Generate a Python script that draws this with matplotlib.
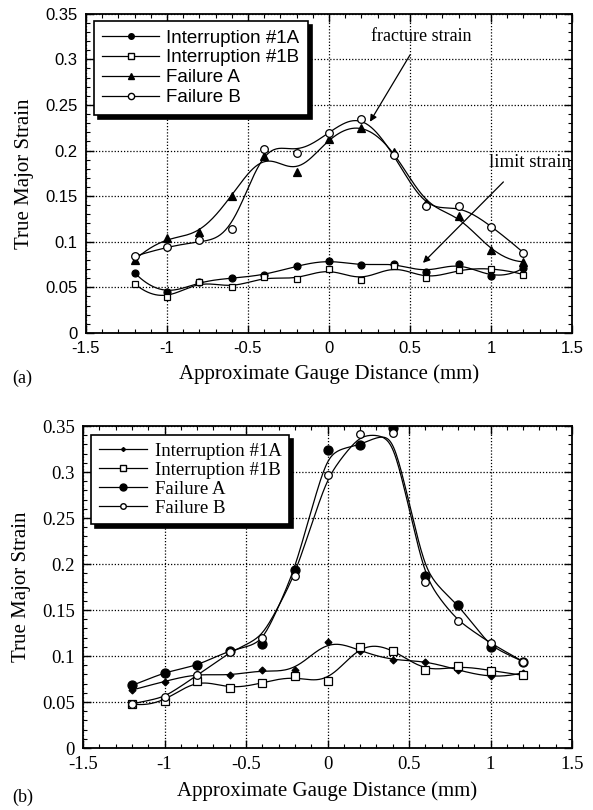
import numpy as np
import matplotlib
matplotlib.use("Agg")
import matplotlib.pyplot as plt
from matplotlib.ticker import MultipleLocator

# gauge positions (mm)
x = [-1.2, -1.0, -0.8, -0.6, -0.4, -0.2, 0.0, 0.2, 0.4, 0.6, 0.8, 1.0, 1.2]

# panel (a)
a_int1a = [0.066, 0.045, 0.056, 0.060, 0.064, 0.073, 0.079, 0.074, 0.076, 0.067, 0.076, 0.062, 0.071]
a_int1b = [0.054, 0.039, 0.056, 0.050, 0.061, 0.059, 0.070, 0.058, 0.073, 0.060, 0.069, 0.070, 0.064]
a_failA = [0.080, 0.104, 0.111, 0.150, 0.194, 0.176, 0.213, 0.225, 0.198, 0.142, 0.128, 0.091, 0.078]
a_failB = [0.084, 0.094, 0.102, 0.114, 0.202, 0.197, 0.219, 0.235, 0.195, 0.139, 0.139, 0.116, 0.088]

# panel (b)
b_int1a = [0.063, 0.072, 0.080, 0.079, 0.085, 0.085, 0.115, 0.105, 0.096, 0.094, 0.085, 0.078, 0.082]
b_int1b = [0.048, 0.051, 0.073, 0.065, 0.071, 0.078, 0.073, 0.110, 0.106, 0.085, 0.089, 0.084, 0.079]
b_failA = [0.068, 0.082, 0.090, 0.106, 0.113, 0.193, 0.324, 0.329, 0.348, 0.187, 0.156, 0.110, 0.094]
b_failB = [0.048, 0.055, 0.079, 0.104, 0.120, 0.187, 0.297, 0.341, 0.342, 0.180, 0.138, 0.114, 0.094]

labels = ["Interruption #1A", "Interruption #1B", "Failure A", "Failure B"]
xticks = [-1.5, -1, -0.5, 0, 0.5, 1, 1.5]
xticklabels = ["-1.5", "-1", "-0.5", "0", "0.5", "1", "1.5"]
yticks = [0, 0.05, 0.1, 0.15, 0.2, 0.25, 0.3, 0.35]
yticklabels = ["0", "0.05", "0.1", "0.15", "0.2", "0.25", "0.3", "0.35"]

SERIF = "Liberation Serif"
SANS = "Liberation Sans"


def smooth(xv, yv, bw=0.15, deg=2):
    # local polynomial kernel smoother, like the plotting program's "smooth" fit
    xv = np.asarray(xv)
    yv = np.asarray(yv)
    xs = np.linspace(xv.min(), xv.max(), 300)
    ys = []
    for x0 in xs:
        w = np.exp(-0.5 * ((xv - x0) / bw) ** 2)
        A = np.vstack([(xv - x0) ** k for k in range(deg + 1)]).T
        AtW = A.T * w
        coef = np.linalg.solve(AtW @ A + 1e-9 * np.eye(deg + 1), AtW @ yv)
        ys.append(coef[0])
    return xs, np.array(ys)


def style_axes(ax, tickfont, ticksize):
    ax.set_xlim(-1.5, 1.5)
    ax.set_ylim(0, 0.35)
    ax.set_xticks(xticks)
    ax.set_xticklabels(xticklabels, family=tickfont, fontsize=ticksize)
    ax.set_yticks(yticks)
    ax.set_yticklabels(yticklabels, family=tickfont, fontsize=ticksize)
    ax.xaxis.set_minor_locator(MultipleLocator(0.1))
    ax.yaxis.set_minor_locator(MultipleLocator(0.01))
    ax.tick_params(which="both", direction="in", top=True, right=True, color="black")
    ax.tick_params(which="major", length=6, width=1.0, pad=6)
    ax.tick_params(which="minor", length=3, width=0.8)
    ax.grid(True, which="major", linestyle=(0, (1, 1.5)), color="black", linewidth=0.9)
    for s in ax.spines.values():
        s.set_linewidth(1.3)
    ax.set_xlabel("Approximate Gauge Distance (mm)", family=SERIF, fontsize=15, labelpad=6)
    ax.set_ylabel("True Major Strain", family=SERIF, fontsize=15, labelpad=8)


def draw_series(ax, yv, marker, ms, mfc, bw, deg):
    xs, ys = smooth(x, yv, bw, deg)
    ax.plot(xs, ys, color="black", lw=0.9, zorder=3)
    ax.plot(x, yv, linestyle="none", marker=marker, ms=ms, mfc=mfc, mec="black",
            mew=0.9, zorder=4)


fig = plt.figure(figsize=(5.93, 8.10), dpi=100)

# ---- panel (a)
ax1 = fig.add_axes([0.145, 0.589, 0.8196, 0.394])
style_axes(ax1, SANS, 12)
specs_a = [("o", 5, "black"), ("s", 5, "white"), ("^", 5.5, "black"), ("o", 5.5, "white")]
for yv, (m, ms, fc) in zip([a_int1a, a_int1b, a_failA, a_failB], specs_a):
    draw_series(ax1, yv, m, ms, fc, 0.15, 2)
handles = [plt.Line2D([], [], color="black", lw=0.9, marker=m, ms=ms - 1, mfc=fc, mec="black")
           for m, ms, fc in specs_a]
leg = ax1.legend(handles, labels, loc="upper left", bbox_to_anchor=(0.005, 0.995),
                 prop={"family": SANS, "size": 13.5}, frameon=True, fancybox=False,
                 edgecolor="black", framealpha=1, handlelength=3.0, labelspacing=0.15,
                 borderpad=0.45, handletextpad=0.4, borderaxespad=0.3,
                 shadow={"color": "black", "alpha": 1, "ox": 3, "oy": -3})
leg.get_frame().set_linewidth(1.2)
leg.set_zorder(10)

ax1.annotate("fracture strain", xy=(0.253, 0.2316), xytext=(0.568, 0.325),
             ha="center", va="center", family=SERIF, fontsize=13,
             arrowprops=dict(arrowstyle="-|>", color="black", lw=0.9,
                             shrinkA=6, shrinkB=0, mutation_scale=10))
ax1.annotate("limit strain", xy=(0.58, 0.0768), xytext=(0.99, 0.1866),
             ha="left", va="center", family=SERIF, fontsize=13.5, annotation_clip=False,
             arrowprops=dict(arrowstyle="-|>", color="black", lw=0.9,
                             shrinkA=8, shrinkB=0, mutation_scale=10,
                             relpos=(0.3, 0)))

fig.text(0.02, 0.533, "(a)", family=SERIF, fontsize=13, va="center")

# ---- panel (b)
ax2 = fig.add_axes([0.14, 0.0765, 0.8246, 0.3975])
style_axes(ax2, SERIF, 13.5)
specs_b = [("D", 3.5, "black"), ("s", 6, "white"), ("o", 6.5, "black"), ("o", 5.5, "white")]
fits_b = [(0.15, 2), (0.15, 2), (0.1, 1), (0.1, 1)]
for yv, (m, ms, fc), (bw, deg) in zip([b_int1a, b_int1b, b_failA, b_failB], specs_b, fits_b):
    draw_series(ax2, yv, m, ms, fc, bw, deg)
handles = [plt.Line2D([], [], color="black", lw=0.9, marker=m, ms=ms - 1.5, mfc=fc, mec="black")
           for m, ms, fc in specs_b]
leg = ax2.legend(handles, labels, loc="upper left", bbox_to_anchor=(0.005, 0.99),
                 prop={"family": SERIF, "size": 13.5}, frameon=True, fancybox=False,
                 edgecolor="black", framealpha=1, handlelength=2.6, labelspacing=0.1,
                 borderpad=0.4, handletextpad=0.4, borderaxespad=0.3,
                 shadow={"color": "black", "alpha": 1, "ox": 3, "oy": -3})
leg.get_frame().set_linewidth(1.2)
leg.set_zorder(10)

fig.text(0.02, 0.016, "(b)", family=SERIF, fontsize=13, va="center")

fig.savefig("out.png", dpi=100)
